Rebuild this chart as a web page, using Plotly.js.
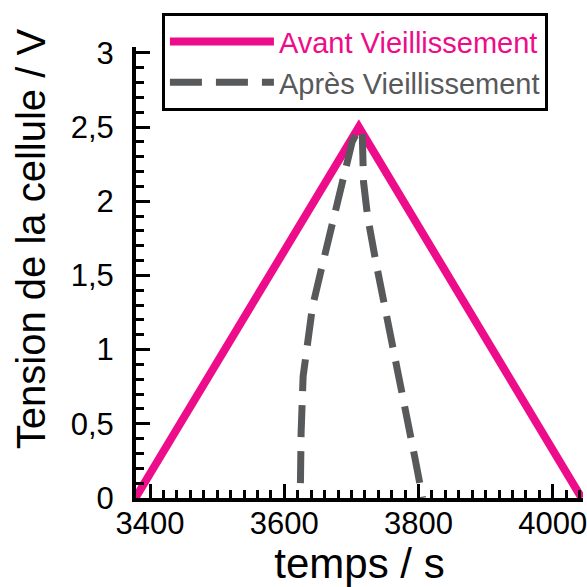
<!DOCTYPE html>
<html>
<head>
<meta charset="utf-8">
<script src="https://cdn.plot.ly/plotly-3.0.1.min.js"></script>
<style>html,body{margin:0;padding:0;background:#fff;}#chart{width:587px;height:587px;}</style>
</head>
<body>
<div id="chart"></div>
<script>
// Avant Vieillissement (before ageing)
const timeAvant = [3378, 3711, 4043];
const voltAvant = [0, 2.5, 0];
// Après Vieillissement (after ageing)
const timeApres = [3624, 3624, 3625, 3628, 3634, 3642, 3654, 3666, 3680, 3694, 3701, 3710,
                   3716, 3718, 3724, 3736, 3748, 3761, 3773, 3785, 3795, 3806];
const voltApres = [0.1, 0.12, 0.44, 0.82, 1.05, 1.29, 1.52, 1.74, 2.00, 2.24, 2.40, 2.48,
                   2.48, 2.13, 1.90, 1.60, 1.33, 1.06, 0.81, 0.54, 0.26, 0];
const seriesNames = ['Avant Vieillissement', 'Après Vieillissement'];
const seriesColors = ['#ED0C8A', '#58595B'];
const xTickVals = [3400, 3600, 3800, 4000];
const xTickText = ['3400', '3600', '3800', '4000'];
const xTitle = 'temps / s';
const yTitle = 'Tension de la cellule / V';

const font = 'Liberation Sans, Arial, sans-serif';

const traces = [
  {x: timeAvant, y: voltAvant, mode: 'lines', type: 'scatter',
   name: '<span style="color:' + seriesColors[0] + '">' + seriesNames[0] + '</span>',
   line: {color: seriesColors[0], width: 8}},
  {x: timeApres, y: voltApres, mode: 'lines', type: 'scatter',
   name: '<span style="color:' + seriesColors[1] + '">' + seriesNames[1] + '</span>',
   line: {color: seriesColors[1], width: 7, dash: '32px,14px'}}
];

const layout = {
  width: 587, height: 587,
  margin: {l: 136, r: 4, t: 47, b: 89, pad: 0},
  paper_bgcolor: '#fff', plot_bgcolor: '#fff',
  separators: ', ',
  font: {family: font, color: '#000'},
  showlegend: true,
  legend: {
    x: 0.058, y: 1.075, xanchor: 'left', yanchor: 'top',
    bgcolor: '#fff', bordercolor: '#000', borderwidth: 3,
    font: {family: font, size: 29},
    itemwidth: 104, tracegroupgap: 0
  },
  xaxis: {
    range: [3379, 4045],
    showline: true, linecolor: '#000', linewidth: 4,
    showgrid: false, zeroline: false,
    ticks: 'inside', ticklen: 14, tickwidth: 3, tickcolor: '#000',
    tickmode: 'array', tickvals: xTickVals, ticktext: xTickText,
    ticklabeloverflow: 'allow', ticklabelstandoff: -5,
    minor: {ticks: 'inside', ticklen: 8, tickwidth: 3, tickcolor: '#000', dtick: 20, tick0: 3400, showgrid: false},
    tickfont: {family: font, size: 31, color: '#000'},
    title: {text: xTitle, font: {family: font, size: 42, color: '#000'}, standoff: 0},
    mirror: false
  },
  yaxis: {
    range: [0, 3.04],
    showline: true, linecolor: '#000', linewidth: 4,
    showgrid: false, zeroline: false,
    ticks: 'inside', ticklen: 14, tickwidth: 3, tickcolor: '#000',
    tick0: 0, dtick: 0.5, ticklabelstandoff: 12,
    minor: {ticks: 'inside', ticklen: 8, tickwidth: 3, tickcolor: '#000', dtick: 0.1, tick0: 0, showgrid: false},
    tickfont: {family: font, size: 31, color: '#000'},
    title: {text: ''},
    mirror: false
  },
  annotations: [{
    text: yTitle, xref: 'paper', yref: 'paper',
    x: -0.236, y: 0.575, xanchor: 'center', yanchor: 'middle',
    textangle: -90, showarrow: false,
    font: {family: font, size: 40, color: '#000'}
  }]
};

Plotly.newPlot('chart', traces, layout, {displayModeBar: false, staticPlot: true});
</script>
</body>
</html>
